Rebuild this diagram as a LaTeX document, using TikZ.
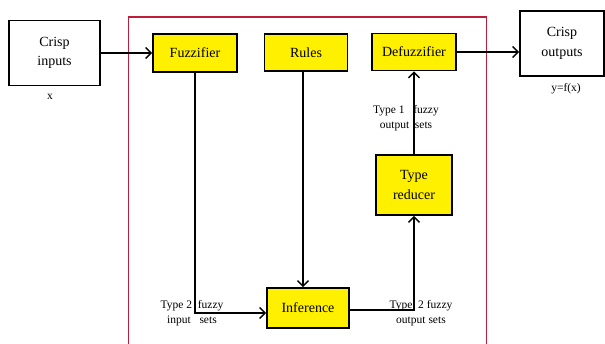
\documentclass[tikz,border=0pt]{standalone}
\usepackage{fontspec}
\setmainfont{Liberation Serif}
\usetikzlibrary{arrows.meta}
\definecolor{frame}{RGB}{190,30,60}
\definecolor{blockfill}{RGB}{255,240,0}

\begin{document}
\begin{tikzpicture}[x=1pt,y=-1pt,
  plainbox/.style={draw,line width=1.6pt,align=center,font=\fontsize{14}{19.5}\selectfont,inner sep=0pt},
  block/.style={plainbox,fill=blockfill},
  lbl/.style={align=center,font=\fontsize{11.5}{15.5}\selectfont,inner sep=0pt},
  conn/.style={line width=1.5pt},
  >={Straight Barb[length=5.5pt,width=11pt,line width=1.4pt]}]
 \useasboundingbox (0,0) rectangle (605,344);
 \draw[frame,line width=1.4pt] (128.5,17) rectangle (486.5,350);
 \node[plainbox,minimum width=91pt,minimum height=65pt] (ci) at (54.5,53) {Crisp\\inputs};
 \node[plainbox,minimum width=84pt,minimum height=65pt] (co) at (562,43.5) {Crisp\\outputs};
 \node[block,minimum width=84pt,minimum height=38pt] (fuz) at (195,53) {Fuzzifier};
 \node[block,minimum width=83pt,minimum height=37pt] (rul) at (306,52.5) {Rules};
 \node[block,minimum width=84pt,minimum height=37pt] (def) at (414,52) {Defuzzifier};
 \node[block,minimum width=76pt,minimum height=60pt] (tr) at (414,185) {Type\\reducer};
 \node[block,minimum width=82pt,minimum height=40pt] (inf) at (308,308) {Inference};
 \node[lbl] at (50,97) {x};
 \node[lbl] at (566,89) {y=f(x)};
 % connectors
 \draw[conn,->] (ci.east) -- (fuz.west);
 \draw[conn,->] (def.east) -- (def.east -| co.west);
 \draw[conn,->] (fuz.south) |- ([yshift=-5pt]inf.west);
 \draw[conn,->] ([xshift=-3pt]rul.south) -- ([xshift=-3pt]rul.south |- inf.north);
 \draw[conn,->] ([yshift=-2pt]inf.east) -| (tr.south);
 \draw[conn,->] (tr.north) -- (def.south);
 % set labels
 \node[lbl] (inlbl) at (192,313) {Type 2\ \ fuzzy\\input\ \ \ sets};
 \node[lbl] (outlbl) at (421,313) {Type\ \ 2 fuzzy\\output sets};
 \node[lbl] (onelbl) at (406,118) {Type 1\ \ \ fuzzy\\output\ \ sets};
\end{tikzpicture}
\end{document}
